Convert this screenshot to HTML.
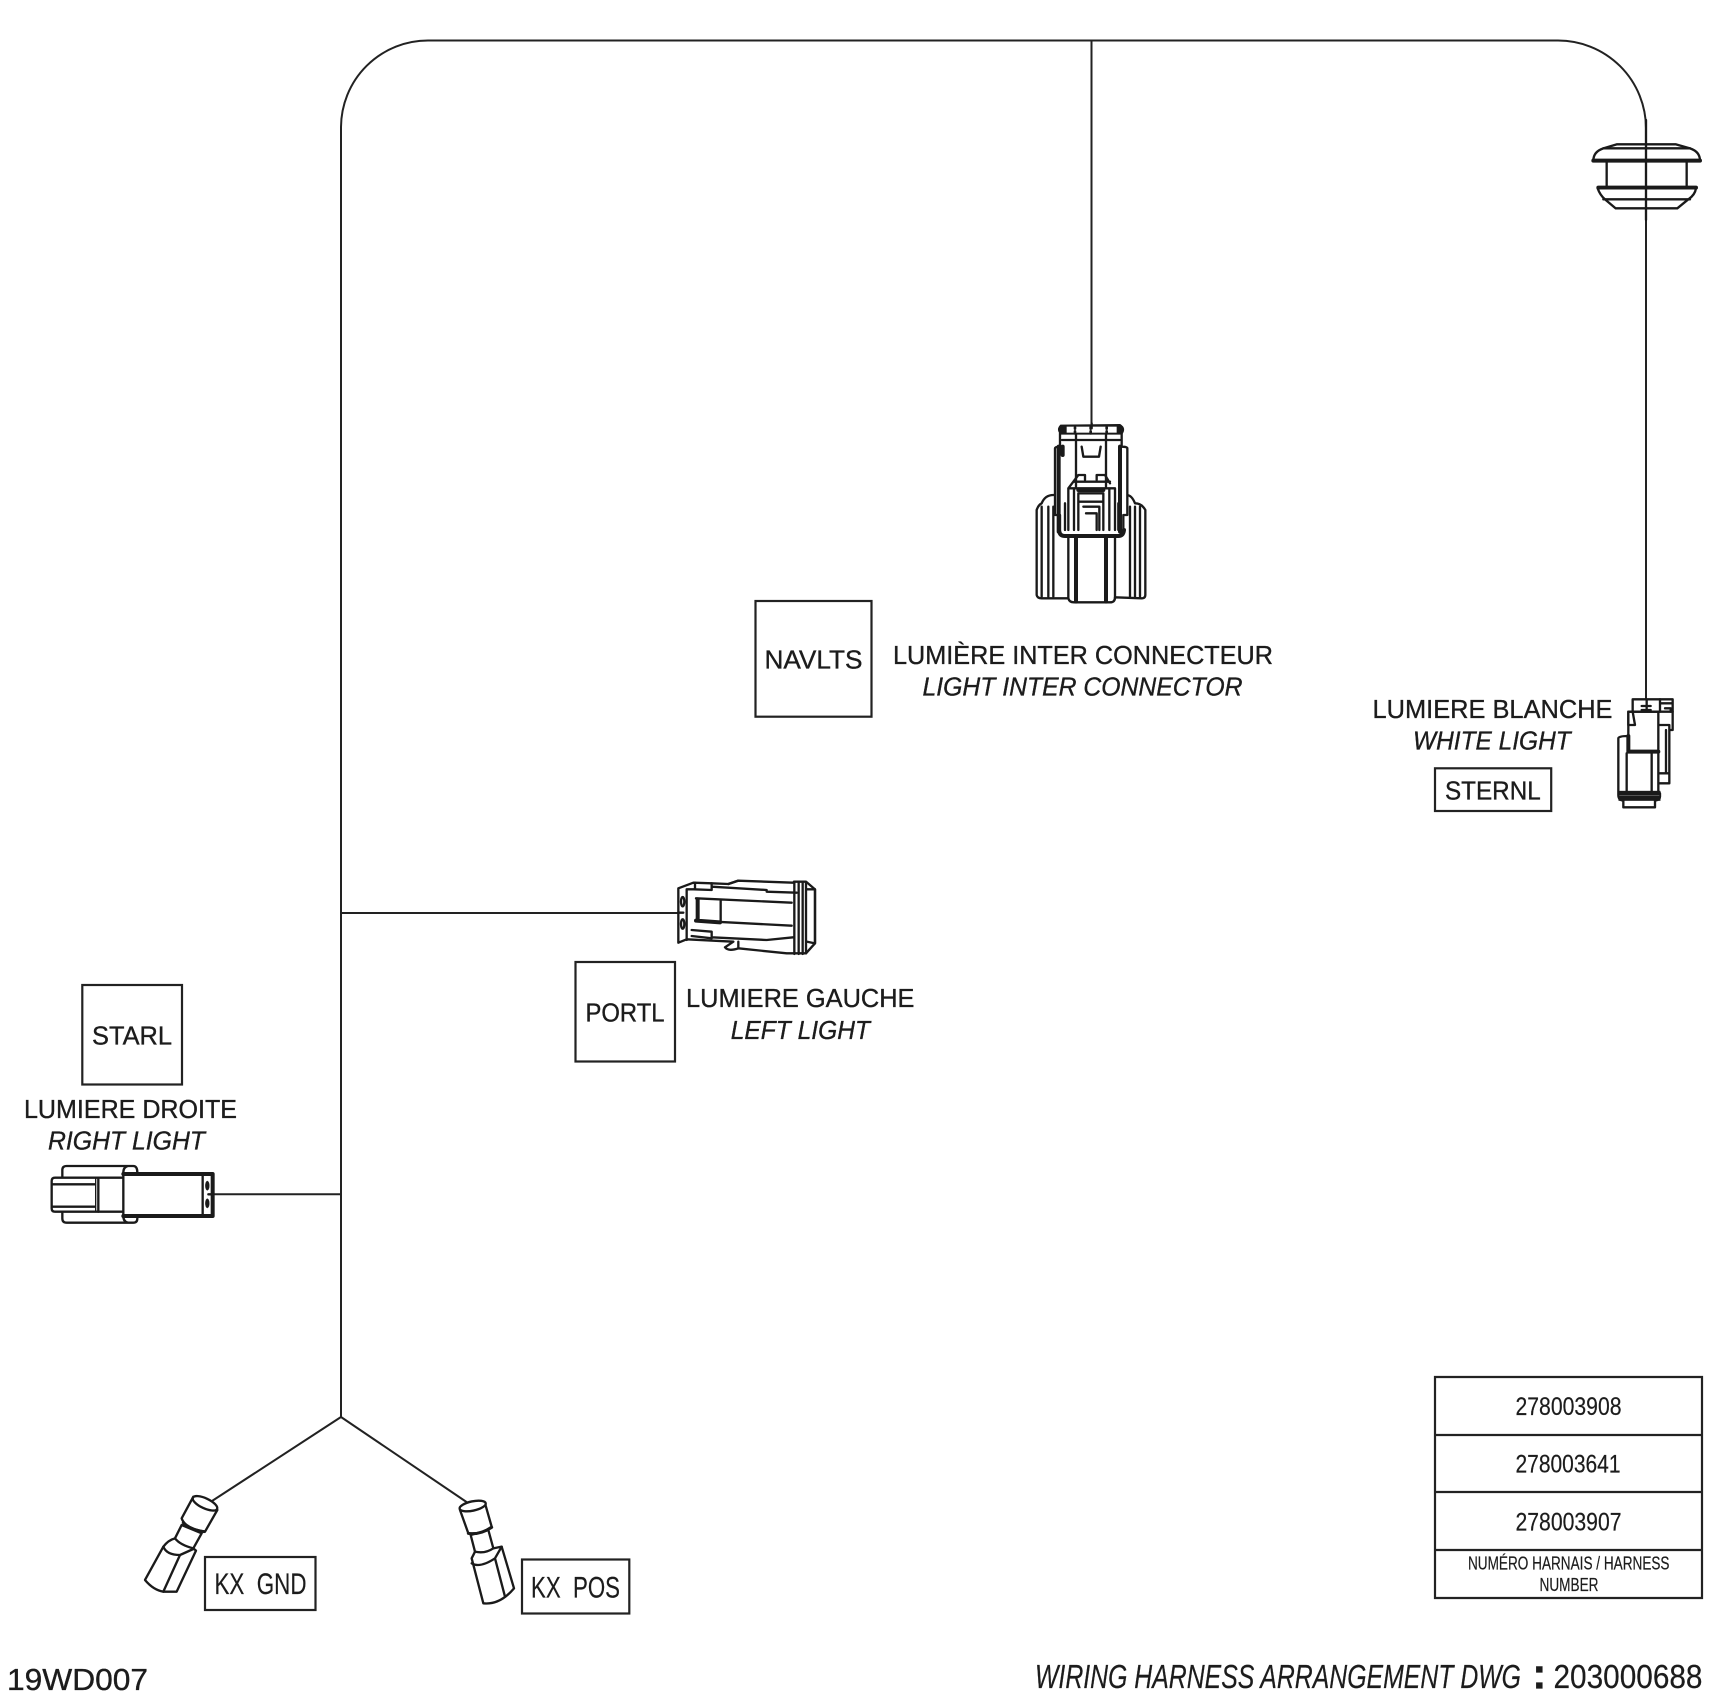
<!DOCTYPE html>
<html><head><meta charset="utf-8"><style>
html,body{margin:0;padding:0;background:#fff}
svg{display:block}
text{font-family:"Liberation Sans",sans-serif;fill:#1c1c1c;stroke:#1c1c1c;stroke-width:.35;white-space:pre}
.n{font-family:"Liberation Sans Narrow","Liberation Sans",sans-serif;stroke-width:.2}
.i{font-style:italic}
.w{fill:none;stroke:#222;stroke-width:2}
.b{fill:none;stroke:#222;stroke-width:2.2}
.c{fill:none;stroke:#1a1a1a;stroke-width:7;stroke-linejoin:round;stroke-linecap:round}
.t{stroke-width:12}
.f{fill:#fff}
.k{fill:#1a1a1a;stroke:#1a1a1a}
</style></head><body>
<svg width="1712" height="1700" viewBox="0 0 1712 1700" xmlns="http://www.w3.org/2000/svg">
<path class="w" d="M341,1417V127A87,87 0 0 1 428,40.5H1558A88,88 0 0 1 1646,128V703"/>
<path class="w" d="M1091.5,40.5V426M341,913H683M208,1194.3H341M212,1501L341,1417L468,1503"/>

<!-- grommet -->
<g transform="translate(1570,120) scale(.33333)">
<path class="c f" d="M70,122Q70,95 100,85L140,73H318L360,85Q390,95 390,122Z"/>
<path class="c" d="M100,85H360M110,122V197M350,122V197"/>
<path class="c t" d="M70,122H390M85,203H378"/>
<path class="c f" d="M83,205H378Q375,225 355,238L322,265H137L105,238Q90,225 83,205Z"/>
<path class="c" d="M100,238H360"/>
<path class="c" d="M228,0V300"/>
</g>

<!-- inter connector -->
<g transform="translate(1000,400) scale(.33333)">
<path class="c f" d="M110,330L110,585Q112,595 125,595L205,595Q208,607 222,607H330Q345,607 345,592L425,595Q436,595 436,585V330Q425,310 405,310Q395,285 380,285H160Q135,285 125,310Q115,315 110,330Z"/>
<path class="c" d="M125,320V590M145,320V590M160,320V590M390,320V590M405,320V590M420,320V590M205,405V595M345,405V595"/>
<path class="c t" d="M228,405V605M318,405V605"/>
<path class="c f" d="M165,145V345H180V395Q182,408 195,408H355Q370,408 370,390V345H382V145Q382,140 365,140L365,100H180V140Q165,140 165,145Z"/>
<path class="c" d="M186,120H360M245,140L250,170H297L302,140M205,265H345M205,265V390M345,265V390M220,245L235,225H255V240M290,240V225H315L330,250M220,245L205,265M220,245H330M235,280H310M235,280V390M310,280V390M250,320H298V390M258,340H290V390M235,305H310M195,310V390M355,310V390M222,265V390M328,265V390"/>
<path class="c" d="M228,100V260M318,100V260"/>
<path class="c t" d="M176,140V395M188,140V165M360,140V395M178,395Q180,408 195,408H355Q370,408 372,390M235,270H310"/>
<path class="k" style="stroke-width:4" d="M182,102Q170,88 182,76L360,74Q378,85 365,102Z"/>
<rect x="200" y="80" width="150" height="18" fill="#fff"/>
<path class="c" style="stroke-width:8" d="M225,82V86M225,94V100M272,82V86M272,94V100M320,82V86M320,94V100"/>
<path class="c" d="M275,70V85"/>
</g>

<!-- white light connector -->
<g transform="translate(1560,680) scale(.33333)">
<path class="c f" d="M175,175Q175,168 205,168V215H295V340H300V350Q300,360 285,362V382H190V362Q175,360 175,345Z"/>
<path class="c" d="M200,220V335M275,220V335"/>
<path class="c f" d="M205,95H295V215H205Z"/>
<path class="c t" d="M205,168V215H295"/>
<path class="c" d="M205,95H218L225,135H205Z"/>
<path class="c" d="M296,135H328V150L338,150V95M318,150V280M328,150V310H298M298,280H328"/>
<path class="c f" d="M218,58H338V95H218Z"/>
<path class="c" d="M300,58V95M305,70H335M315,85H332V95M245,78H272M245,90H272"/>
<path class="c" d="M260,60V90"/>
<path class="k" d="M176,333H301V362H176Z"/>
<path d="M178,346H298" style="stroke:#777;stroke-width:2;fill:none"/>
</g>

<!-- left light connector -->
<g transform="translate(660,860) scale(.33333)">
<path class="c f" d="M55,85L100,68L155,70L205,72L235,62L400,68L402,65H438L465,88V250L438,280H380L235,265Q205,275 195,262L220,245L80,238L55,248Z"/>
<path class="c" d="M80,88V240M80,88H100M105,68V88M100,88L155,90V70M155,80L320,90V95L410,98M95,210L155,215V235L95,228M155,232L320,240L400,232M235,245V262M205,72L235,62M440,88H465V250L440,245"/>
<path class="c" d="M108,115L395,128M108,182L395,197M182,122V185"/>
<path class="c t" d="M113,118V182M108,182L180,187"/>
<path class="c" d="M403,65V282M416,65V282M428,68V282M438,68V280"/>
<ellipse class="c" cx="68" cy="125" rx="5" ry="14"/>
<ellipse class="c" cx="68" cy="192" rx="5" ry="14"/>
<path class="c" d="M55,158H70"/>
</g>

<!-- right light connector -->
<g transform="translate(30,1150) scale(.33333)">
<path class="c" d="M97,80V60Q97,48 110,48H310Q322,48 322,68M280,68Q280,50 295,48M97,185V205Q97,218 110,218H310Q322,218 322,205M280,198Q280,216 295,218"/>
<path class="c f" d="M75,83H205V185H75Q65,185 65,175V93Q65,83 75,83Z"/>
<path class="c" d="M65,103H195M65,170H195M205,83H278M205,185H278"/>
<path class="c" style="stroke-width:4" d="M197,83V185M205,83V185"/>
<path class="c f" d="M280,72H548V198H280Z"/>
<path class="c t" d="M280,72H548M280,198H548M548,72V198"/>
<path class="c" d="M518,72V198"/>
<ellipse class="k" cx="532" cy="107" rx="6" ry="14"/>
<ellipse class="k" cx="532" cy="160" rx="6" ry="14"/>
<path class="c" d="M535,133H548"/>
</g>

<!-- KX GND terminal -->
<g transform="translate(130,1480) scale(.33333)">
<path class="c f" d="M135,175Q115,180 100,200L45,300Q70,330 100,335H140L198,212L190,205Z"/>
<path class="c" d="M100,200Q110,225 150,225L190,207M150,225L100,335"/>
<path class="c f" d="M155,135L135,175Q150,195 190,205L215,160Z"/>
<path class="c f" d="M190,50L155,115Q165,145 225,155L262,90Z"/>
<path class="c" style="stroke-width:9" d="M160,128Q175,148 222,155"/>
<ellipse class="c f" cx="225" cy="70" rx="40" ry="15" transform="rotate(25 225 70)"/>
</g>

<!-- KX POS terminal -->
<g transform="translate(440,1480) scale(.33333)">
<path class="c f" d="M105,215L95,235L130,370Q180,375 222,325L185,200L160,205Z"/>
<path class="c" d="M95,250Q120,265 165,235L185,200M165,235L195,350"/>
<path class="c f" d="M92,165L105,215Q135,222 160,205L145,150Z"/>
<path class="c f" d="M60,90L85,160Q120,165 155,140L135,70Z"/>
<path class="c" style="stroke-width:9" d="M85,160Q120,165 155,142"/>
<ellipse class="c f" cx="98" cy="78" rx="40" ry="14" transform="rotate(-12 98 78)"/>
</g>

<!-- boxes -->
<rect class="b" x="755.5" y="601" width="116" height="115.7"/>
<rect class="b" x="1435" y="768.3" width="116.2" height="42.7"/>
<rect class="b" x="575.5" y="962" width="99.5" height="99.5"/>
<rect class="b" x="82.3" y="985" width="99.7" height="99.5"/>
<rect class="b" x="205" y="1557" width="110.5" height="53"/>
<rect class="b" x="522" y="1559.5" width="107.3" height="54"/>
<path class="b" d="M1435,1377H1702V1598H1435ZM1435,1435H1702M1435,1492H1702M1435,1550H1702"/>

<!-- labels -->
<text x="764.5" y="668.7" font-size="26" textLength="98" lengthAdjust="spacingAndGlyphs">NAVLTS</text>
<text x="893" y="664.2" font-size="26" textLength="380" lengthAdjust="spacingAndGlyphs">LUMIÈRE INTER CONNECTEUR</text>
<text class="i" x="922.5" y="695.3" font-size="26" textLength="320" lengthAdjust="spacingAndGlyphs">LIGHT INTER CONNECTOR</text>
<text x="1372.5" y="718" font-size="26" textLength="240" lengthAdjust="spacingAndGlyphs">LUMIERE BLANCHE</text>
<text class="i" x="1413" y="749.3" font-size="26" textLength="157.7" lengthAdjust="spacingAndGlyphs">WHITE LIGHT</text>
<text x="1445" y="799.3" font-size="26" textLength="95.7" lengthAdjust="spacingAndGlyphs">STERNL</text>
<text x="585.5" y="1021.7" font-size="26" textLength="79" lengthAdjust="spacingAndGlyphs">PORTL</text>
<text x="686" y="1007" font-size="26" textLength="228.5" lengthAdjust="spacingAndGlyphs">LUMIERE GAUCHE</text>
<text class="i" x="730.7" y="1039" font-size="26" textLength="139.3" lengthAdjust="spacingAndGlyphs">LEFT LIGHT</text>
<text x="92" y="1044.7" font-size="26" textLength="80" lengthAdjust="spacingAndGlyphs">STARL</text>
<text x="24" y="1118" font-size="26" textLength="213" lengthAdjust="spacingAndGlyphs">LUMIERE DROITE</text>
<text class="i" x="48" y="1149.3" font-size="26" textLength="157" lengthAdjust="spacingAndGlyphs">RIGHT LIGHT</text>
<text class="n" x="214.5" y="1594" font-size="30" textLength="92" lengthAdjust="spacingAndGlyphs">KX  GND</text>
<text class="n" x="531" y="1597.3" font-size="30" textLength="89" lengthAdjust="spacingAndGlyphs">KX  POS</text>
<text class="n" x="1515.5" y="1415" font-size="25" textLength="106" lengthAdjust="spacingAndGlyphs">278003908</text>
<text class="n" x="1515.5" y="1472.7" font-size="25" textLength="105" lengthAdjust="spacingAndGlyphs">278003641</text>
<text class="n" x="1515.5" y="1530.7" font-size="25" textLength="106" lengthAdjust="spacingAndGlyphs">278003907</text>
<text class="n" x="1468" y="1569.3" font-size="18" textLength="201.5" lengthAdjust="spacingAndGlyphs">NUMÉRO HARNAIS / HARNESS</text>
<text class="n" x="1539.5" y="1591" font-size="18" textLength="59" lengthAdjust="spacingAndGlyphs">NUMBER</text>
<text class="n i" x="1035" y="1688" font-size="33" textLength="486" lengthAdjust="spacingAndGlyphs">WIRING HARNESS ARRANGEMENT DWG</text>
<text x="1532" y="1688.5" font-size="44" font-weight="bold">:</text>
<text class="n" x="1553.5" y="1688" font-size="33" textLength="149" lengthAdjust="spacingAndGlyphs">203000688</text>
<text x="7" y="1690" font-size="31" textLength="141" lengthAdjust="spacingAndGlyphs">19WD007</text>
</svg>
</body></html>
